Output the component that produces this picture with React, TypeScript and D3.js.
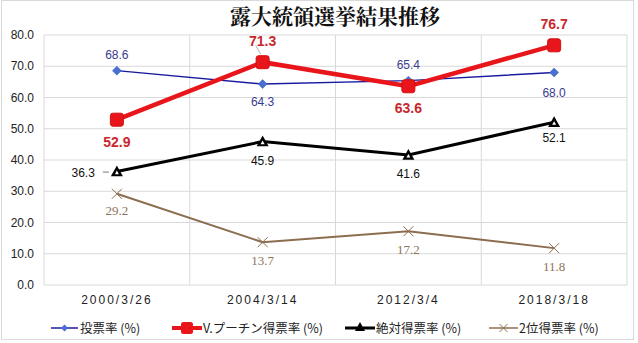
import React from "react";
import * as d3 from "d3";

const categories = ["2000/3/26", "2004/3/14", "2012/3/4", "2018/3/18"];
const turnout = [68.6, 64.3, 65.4, 68.0];
const putin = [52.9, 71.3, 63.6, 76.7];
const absolute = [36.3, 45.9, 41.6, 52.1];
const second = [29.2, 13.7, 17.2, 11.8];
const yTicks = [0, 10, 20, 30, 40, 50, 60, 70, 80];
const legendLabels = ["投票率 (%)", "V.プーチン得票率 (%)", "絶対得票率 (%)", "2位得票率 (%)"];

const W = 638, H = 343;
const L = 44, R = 627, T = 35, B = 285;

export default function App() {
  const x = d3.scaleBand().domain(categories).range([L, R]);
  const y = d3.scaleLinear().domain([0, 80]).range([B, T]);
  const cx = (c: string) => (x(c) as number) + x.bandwidth() / 2;
  const line = d3.line<number>().x((_, i) => cx(categories[i])).y((v) => y(v));
  const font = "Arial, 'Liberation Sans', sans-serif";
  const cjk = "'Noto Sans CJK JP', Arial, sans-serif";

  const blueLbl: [number, number][] = [[0, -16], [0, 18], [0, -16], [0, 20]];
  const redLbl: [number, number][] = [[0, 22], [0, -21], [0, 22], [0, -21]];
  const blackLbl: [number, number][] = [[-22, 5], [0, 23], [0, 23], [0, 20]];
  const brownLbl: [number, number][] = [[0, 17], [0, 19], [0, 19], [0, 19]];

  const diamond = (px: number, py: number, s: number) =>
    `M${px},${py - s}L${px + s},${py}L${px},${py + s}L${px - s},${py}Z`;
  const tri = (px: number, py: number, s: number) =>
    `M${px},${py - s}L${px + s},${py + s * 0.8}L${px - s},${py + s * 0.8}Z`;
  const cross = (px: number, py: number, s: number) =>
    `M${px - s},${py - s}L${px + s},${py + s}M${px - s},${py + s}L${px + s},${py - s}`;

  const legendLine: [number, number][] = [[51, 78], [172, 202], [345, 375], [489, 518]];
  const legendText = [80, 203, 376, 519];
  const ly = 328;

  return (
    <svg width={W} height={H} style={{ position: "absolute", left: 0, top: 0, background: "#fff" }}>
      <rect x={1.5} y={0.5} width={632} height={339} fill="#fff" stroke="#d9d9d9" />
      <text x={335} y={24} textAnchor="middle" fontFamily="'Noto Serif CJK JP', 'Noto Sans CJK JP', serif" fontWeight="bold" fontSize={21} fill="#111">
        露大統領選挙結果推移
      </text>
      {yTicks.map((t) => (
        <g key={t}>
          <line x1={L} x2={R} y1={y(t)} y2={y(t)} stroke="#d9d9d9" />
          <text x={34} y={y(t) + 4} textAnchor="end" fontFamily={font} fontSize={12} fill="#222">
            {t.toFixed(1)}
          </text>
        </g>
      ))}
      {categories.map((c) => (
        <g key={c}>
          <line x1={x(c)} x2={x(c)} y1={T} y2={B} stroke="#d9d9d9" />
          <text x={cx(c)} y={304} textAnchor="middle" fontFamily={font} fontSize={12} letterSpacing={2} fill="#222">
            {c}
          </text>
        </g>
      ))}
      <line x1={R} x2={R} y1={T} y2={B} stroke="#d9d9d9" />

      <path d={line(second) || ""} fill="none" stroke="#8c6d4f" strokeWidth={2} />
      {second.map((v, i) => (
        <path key={i} d={cross(cx(categories[i]), y(v), 5)} stroke="#8c6d4f" strokeWidth={1} />
      ))}
      <path d={line(turnout) || ""} fill="none" stroke="#1a1aa0" strokeWidth={1.5} />
      {turnout.map((v, i) => (
        <path key={i} d={diamond(cx(categories[i]), y(v), 4.5)} fill="#4a6fd0" stroke="#3a5fc0" strokeWidth={0.5} />
      ))}
      <path d={line(absolute) || ""} fill="none" stroke="#000" strokeWidth={3} />
      {absolute.map((v, i) => (
        <g key={i}>
          <path d={tri(cx(categories[i]), y(v), 6)} fill="#000" />
          <path d={tri(cx(categories[i]), y(v) + 1, 2)} fill="#fff" />
        </g>
      ))}
      <path d={line(putin) || ""} fill="none" stroke="#e8161b" strokeWidth={4.5} />
      {putin.map((v, i) => (
        <rect key={i} x={cx(categories[i]) - 6.5} y={y(v) - 6.5} width={13} height={13} rx={2.5} fill="#e8161b" stroke="#d01010" />
      ))}

      <line x1={cx(categories[1]) - 7} y1={y(putin[1]) - 17} x2={cx(categories[1]) - 2} y2={y(putin[1]) - 8} stroke="#999" strokeWidth={0.8} />
      <line x1={cx(categories[0]) - 14} y1={y(absolute[0]) + 0.5} x2={cx(categories[0]) - 8} y2={y(absolute[0]) + 0.5} stroke="#555" strokeWidth={0.8} />

      {turnout.map((v, i) => (
        <text key={i} x={cx(categories[i]) + blueLbl[i][0]} y={y(v) + blueLbl[i][1] + 4} textAnchor="middle" fontFamily={font} fontSize={12} fill="#3a3a8f">
          {v.toFixed(1)}
        </text>
      ))}
      {putin.map((v, i) => (
        <text key={i} x={cx(categories[i]) + redLbl[i][0]} y={y(v) + redLbl[i][1] + 5} textAnchor="middle" fontFamily={font} fontWeight="bold" fontSize={14} fill="#c8282d">
          {v.toFixed(1)}
        </text>
      ))}
      {absolute.map((v, i) => (
        <text key={i} x={cx(categories[i]) + blackLbl[i][0]} y={y(v) + blackLbl[i][1]} textAnchor={i === 0 ? "end" : "middle"} fontFamily={font} fontSize={12} fill="#111">
          {v.toFixed(1)}
        </text>
      ))}
      {second.map((v, i) => (
        <text key={i} x={cx(categories[i]) + brownLbl[i][0]} y={y(v) + brownLbl[i][1] + 4} textAnchor="middle" fontFamily="'Liberation Serif', 'DejaVu Serif', serif" fontSize={13} fill="#8c7358">
          {v.toFixed(1)}
        </text>
      ))}

      <g>
        <line x1={legendLine[0][0]} x2={legendLine[0][1]} y1={ly} y2={ly} stroke="#1a1aa0" strokeWidth={1.5} />
        <path d={diamond((legendLine[0][0] + legendLine[0][1]) / 2, ly, 3.5)} fill="#4a6fd0" />
        <line x1={legendLine[1][0]} x2={legendLine[1][1]} y1={ly} y2={ly} stroke="#e8161b" strokeWidth={4} />
        <rect x={(legendLine[1][0] + legendLine[1][1]) / 2 - 6} y={ly - 6} width={12} height={12} rx={2.5} fill="#e8161b" />
        <line x1={legendLine[2][0]} x2={legendLine[2][1]} y1={ly} y2={ly} stroke="#000" strokeWidth={3} />
        <path d={tri((legendLine[2][0] + legendLine[2][1]) / 2, ly - 1, 5)} fill="#000" />
        <line x1={legendLine[3][0]} x2={legendLine[3][1]} y1={ly} y2={ly} stroke="#8c6d4f" strokeWidth={1.5} />
        <path d={cross((legendLine[3][0] + legendLine[3][1]) / 2, ly, 4)} stroke="#8c6d4f" strokeWidth={1} />
        {legendLabels.map((l, i) => (
          <text key={l} x={legendText[i]} y={ly + 4.5} fontFamily={cjk} fontSize={12.5} fill="#222">
            {l}
          </text>
        ))}
      </g>
    </svg>
  );
}
